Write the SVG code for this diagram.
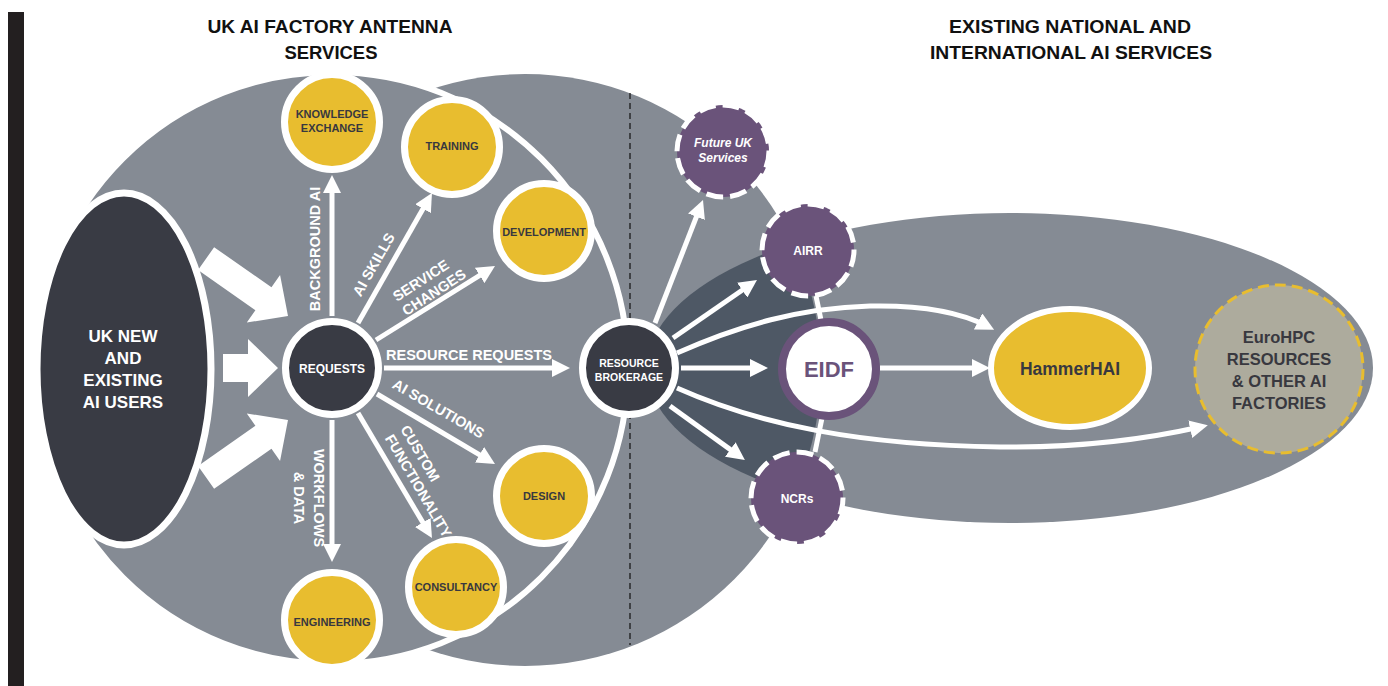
<svg xmlns="http://www.w3.org/2000/svg" width="1388" height="686" viewBox="0 0 1388 686">
<defs>
<style>
text{font-family:"Liberation Sans",Arial,sans-serif;font-weight:bold}
.title{font-size:19px;fill:#111;text-anchor:middle}
.wl{fill:#fff;font-size:14.5px}
.yl{fill:#38383f;font-size:11px;text-anchor:middle}
.yc{fill:#e8bd2f;stroke:#fff;stroke-width:7}
.dc{fill:#393b44;stroke:#fff;stroke-width:7}
.pc{fill:#6a537a;stroke:#fff;stroke-width:5;stroke-dasharray:17 7}
.pl{fill:#fff;font-size:12px;text-anchor:middle}
.conn{stroke:#fff;stroke-width:5;fill:none}
.arr{marker-end:url(#ah)}
.blk{fill:#fff}
</style>
<marker id="ah" markerUnits="userSpaceOnUse" markerWidth="18" markerHeight="18" refX="10" refY="9" orient="auto"><path d="M0,0 L18,9 L0,18 z" fill="#fff"/></marker>
<clipPath id="midclip"><circle cx="525" cy="370" r="296"/></clipPath>
</defs>
<rect width="1388" height="686" fill="#fff"/>
<rect x="8" y="12" width="16" height="674" fill="#231f20"/>

<g id="titles">
<text class="title" x="330" y="33" textLength="245" lengthAdjust="spacingAndGlyphs">UK AI FACTORY ANTENNA</text>
<text class="title" x="331" y="59" textLength="93" lengthAdjust="spacingAndGlyphs">SERVICES</text>
<text class="title" x="1070" y="33" textLength="242" lengthAdjust="spacingAndGlyphs">EXISTING NATIONAL AND</text>
<text class="title" x="1071" y="59" textLength="282" lengthAdjust="spacingAndGlyphs">INTERNATIONAL AI SERVICES</text>
</g>

<g id="regions">
<circle cx="525" cy="370" r="296" fill="#858b94"/>
<ellipse cx="1010" cy="368" rx="363" ry="155" fill="#858b94"/>
<ellipse cx="1010" cy="368" rx="363" ry="155" fill="#4e5865" clip-path="url(#midclip)"/>
<line x1="630" y1="93" x2="630" y2="645" stroke="#111" stroke-width="1.2" stroke-dasharray="6 4"/>
<circle cx="332" cy="368" r="296" fill="#858b94" stroke="#fff" stroke-width="6"/>
</g>

<g id="users">
<ellipse cx="124" cy="369" rx="87" ry="176" fill="#393b44" stroke="#fff" stroke-width="7"/>
<text fill="#fff" font-size="17" text-anchor="middle"><tspan x="123" y="342">UK NEW</tspan><tspan x="123" y="364">AND</tspan><tspan x="123" y="386">EXISTING</tspan><tspan x="123" y="408">AI USERS</tspan></text>
</g>

<g id="connectors">
<polygon class="blk" transform="translate(288,316) rotate(35)" points="0,0 -30,-29 -30,-14 -100,-14 -100,14 -30,14 -30,29"/>
<polygon class="blk" transform="translate(278,368)" points="0,0 -30,-29 -30,-14 -55,-14 -55,14 -30,14 -30,29"/>
<polygon class="blk" transform="translate(288,420) rotate(-35)" points="0,0 -30,-29 -30,-14 -100,-14 -100,14 -30,14 -30,29"/>

<line class="conn arr" x1="332" y1="316" x2="332" y2="183"/>
<line class="conn arr" x1="358" y1="323" x2="428" y2="200"/>
<line class="conn arr" x1="376" y1="340" x2="488.2" y2="270.2"/>
<line class="conn arr" x1="384" y1="368" x2="562" y2="368"/>
<line class="conn arr" x1="377" y1="394" x2="488.1" y2="459.9"/>
<line class="conn arr" x1="358" y1="413" x2="427.9" y2="531.1"/>
<line class="conn arr" x1="332" y1="420" x2="332" y2="554"/>

<line class="conn arr" x1="655" y1="323" x2="700.1" y2="207.4"/>
<line class="conn arr" x1="673" y1="338" x2="750.4" y2="284.5"/>
<line class="conn arr" x1="681" y1="368" x2="760" y2="368"/>
<line class="conn arr" x1="670" y1="406" x2="738.4" y2="455.4"/>
<line class="conn arr" x1="880" y1="368" x2="982" y2="368"/>
<path class="conn arr" d="M677,353 C740,325 800,308 870,306 C920,305 960,312 987,326"/>
<path class="conn arr" d="M677,388 C760,425 860,445 1000,447 C1090,448 1160,436 1200,427"/>
<line class="conn" x1="816" y1="296" x2="821" y2="320"/>
<line class="conn" x1="822" y1="418" x2="815" y2="452"/>

<text class="wl" transform="translate(320,249) rotate(-90)" text-anchor="middle">BACKGROUND AI</text>
<text class="wl" transform="translate(378,267) rotate(-60.3)" text-anchor="middle">AI SKILLS</text>
<text class="wl" transform="translate(397,302) rotate(-33)"><tspan x="0" y="0">SERVICE</tspan><tspan x="0" y="17">CHANGES</tspan></text>
<text class="wl" x="469" y="360" text-anchor="middle">RESOURCE REQUESTS</text>
<text class="wl" transform="translate(436,413) rotate(30)" text-anchor="middle">AI SOLUTIONS</text>
<text class="wl" transform="translate(400,429) rotate(59.5)"><tspan x="0" y="0">CUSTOM</tspan><tspan x="0" y="18">FUNCTIONALITY</tspan></text>
<text class="wl" transform="translate(314,498) rotate(90)" text-anchor="middle"><tspan x="0" y="0">WORKFLOWS</tspan><tspan x="0" y="20">&amp; DATA</tspan></text>
</g>

<g id="requests">
<circle class="dc" cx="332" cy="368" r="46.5"/>
<text x="332" y="373" fill="#fff" font-size="12" text-anchor="middle">REQUESTS</text>
</g>
<g id="knowledge-exchange">
<circle class="yc" cx="332" cy="122" r="47.5"/>
<text class="yl"><tspan x="332" y="118">KNOWLEDGE</tspan><tspan x="332" y="132">EXCHANGE</tspan></text>
</g>
<g id="training">
<circle class="yc" cx="452" cy="147" r="47.5"/>
<text class="yl" x="452" y="150">TRAINING</text>
</g>
<g id="development">
<circle class="yc" cx="544" cy="231" r="47.5"/>
<text class="yl" x="544" y="236">DEVELOPMENT</text>
</g>
<g id="design">
<circle class="yc" cx="544" cy="496" r="47.5"/>
<text class="yl" x="544" y="500">DESIGN</text>
</g>
<g id="consultancy">
<circle class="yc" cx="456" cy="587" r="47.5"/>
<text class="yl" x="456" y="591">CONSULTANCY</text>
</g>
<g id="engineering">
<circle class="yc" cx="332" cy="620" r="47.5"/>
<text class="yl" x="332" y="626">ENGINEERING</text>
</g>
<g id="resource-brokerage">
<circle class="dc" cx="629" cy="368" r="46.5"/>
<text fill="#fff" font-size="10.5" text-anchor="middle"><tspan x="629" y="367">RESOURCE</tspan><tspan x="629" y="381">BROKERAGE</tspan></text>
</g>
<g id="future-uk">
<circle class="pc" cx="723" cy="151" r="46"/>
<text class="pl" font-style="italic"><tspan x="723" y="147">Future UK</tspan><tspan x="723" y="162">Services</tspan></text>
</g>
<g id="airr">
<circle class="pc" cx="808" cy="250" r="46"/>
<text class="pl" x="808" y="255">AIRR</text>
</g>
<g id="ncrs">
<circle class="pc" cx="797" cy="498" r="46"/>
<text class="pl" x="797" y="503">NCRs</text>
</g>
<g id="eidf">
<circle cx="829" cy="369" r="47" fill="#fff" stroke="#6a537a" stroke-width="8"/>
<text x="829" y="377" fill="#6a537a" font-size="22" text-anchor="middle">EIDF</text>
</g>
<g id="hammerhai">
<ellipse cx="1070" cy="368" rx="79" ry="59" fill="#e8bd2f" stroke="#fff" stroke-width="6"/>
<text x="1070" y="375" fill="#38383f" font-size="17.5" text-anchor="middle">HammerHAI</text>
</g>
<g id="eurohpc">
<circle cx="1279" cy="369" r="84" fill="#adab9d" stroke="#e8bd2f" stroke-width="3" stroke-dasharray="11 6"/>
<text fill="#38383f" font-size="16.5" text-anchor="middle"><tspan x="1279" y="343">EuroHPC</tspan><tspan x="1279" y="365">RESOURCES</tspan><tspan x="1279" y="387">&amp; OTHER AI</tspan><tspan x="1279" y="409">FACTORIES</tspan></text>
</g>
</svg>
